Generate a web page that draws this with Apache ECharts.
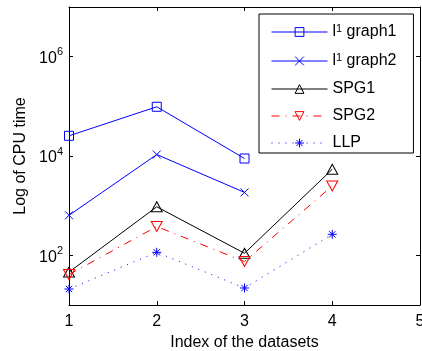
<!DOCTYPE html>
<html>
<head>
<meta charset="utf-8">
<script src="https://cdn.jsdelivr.net/npm/echarts@6/dist/echarts.min.js"></script>
<style>
  html, body {margin: 0; padding: 0; background: #fff;}
  #chart {width: 422px; height: 351px;}
</style>
</head>
<body>
<div id="chart"></div>
<script>
const datasets = [1, 2, 3, 4];
const l1graph1 = [25500, 98000, 8900, null];
const l1graph2 = [640, 10700, 1850, null];
const spg1 = [46, 950, 110, 5400];
const spg2 = [41, 380, 75, 2500];
const llp = [21, 115, 22, 265];
const xTicks = [1, 2, 3, 4, 5];
const yTicks = [100, 10000, 1000000];

const font = 'Liberation Sans, Arial, Helvetica, sans-serif';
const pairs = vals => datasets.map((x, i) => [x, vals[i]]);

// superscript text pieces for tick labels and legend
const supText = {
  a: {fontSize: 16, fontFamily: font, color: '#000'},
  A: {fontSize: 16, fontFamily: font, color: '#000', lineHeight: 18},
  s: {fontSize: 11, fontFamily: font, color: '#000', lineHeight: 11, verticalAlign: 'top', padding: [0, 0, 7, 0]}
};
const tickText = {
  a: {fontSize: 16, fontFamily: font, color: '#000', lineHeight: 20, verticalAlign: 'bottom'},
  s: {fontSize: 11, fontFamily: font, color: '#000', lineHeight: 11, verticalAlign: 'top', padding: [0, 0, 9, 0]}
};

const chart = echarts.init(document.getElementById('chart'));

const yAxisBase = {
  type: 'log',
  logBase: 10,
  min: 10,
  max: 1e7,
  axisLine: {show: true, lineStyle: {color: '#000', width: 1}},
  axisTick: {show: true, inside: true, length: 4, customValues: yTicks, lineStyle: {color: '#000'}},
  splitLine: {show: false},
  minorTick: {show: false}
};
const xAxisBase = {
  type: 'value',
  min: 1,
  max: 5,
  interval: 1,
  axisLine: {show: true, onZero: false, lineStyle: {color: '#000', width: 1}},
  axisTick: {show: true, inside: true, length: 4, lineStyle: {color: '#000'}},
  splitLine: {show: false}
};

chart.setOption({
  animation: false,
  backgroundColor: '#fff',
  textStyle: {fontFamily: font},
  grid: {left: 69, right: 2, top: 7, bottom: 46, containLabel: false, outerBoundsMode: 'none'},
  xAxis: [
    Object.assign({}, xAxisBase, {
      position: 'bottom',
      name: 'Index of the datasets',
      nameLocation: 'middle',
      nameGap: 30,
      nameTextStyle: {fontSize: 16, color: '#000', fontFamily: font},
      axisLabel: {fontSize: 16, color: '#000', margin: 9, fontFamily: font,
        customValues: xTicks, showMaxLabel: true}
    }),
    Object.assign({}, xAxisBase, {position: 'top', axisLabel: {show: false}})
  ],
  yAxis: [
    Object.assign({}, yAxisBase, {
      position: 'left',
      name: 'Log of CPU time',
      nameLocation: 'middle',
      nameGap: 40,
      nameTextStyle: {fontSize: 16, color: '#000', fontFamily: font},
      axisLabel: {
        customValues: yTicks,
        margin: 6,
        formatter: v => '{a|10}{s|' + Math.round(Math.log10(v)) + '}',
        rich: tickText
      }
    }),
    Object.assign({}, yAxisBase, {position: 'right', axisLabel: {show: false}})
  ],
  legend: {
    left: 259,
    top: 14,
    orient: 'vertical',
    itemWidth: 56,
    itemHeight: 11,
    itemGap: 11,
    padding: [9, 17, 2, 12],
    backgroundColor: '#fff',
    borderColor: '#000',
    borderWidth: 1,
    borderRadius: 0,
    lineStyle: {width: 1},
    itemStyle: {borderWidth: 1},
    data: ['l1 graph1', 'l1 graph2', 'SPG1', 'SPG2', 'LLP'],
    formatter: name => name.startsWith('l1 ')
      ? '{A|l}{s|1}{A| ' + name.slice(3) + '}'
      : '{a|' + name + '}',
    textStyle: {fontSize: 16, color: '#000', fontFamily: font, rich: supText}
  },
  series: [
    {
      name: 'l1 graph1', type: 'line', data: pairs(l1graph1),
      symbol: 'rect', symbolSize: 9,
      lineStyle: {color: '#0000ff', width: 1},
      itemStyle: {color: 'transparent', borderColor: '#0000ff', borderWidth: 1}
    },
    {
      name: 'l1 graph2', type: 'line', data: pairs(l1graph2),
      symbol: 'path://M0,0L10,10M0,10L10,0', symbolSize: 8,
      lineStyle: {color: '#0000ff', width: 1},
      itemStyle: {color: 'transparent', borderColor: '#0000ff', borderWidth: 1}
    },
    {
      name: 'SPG1', type: 'line', data: pairs(spg1),
      symbol: 'triangle', symbolSize: [11, 10],
      lineStyle: {color: '#000', width: 1},
      itemStyle: {color: 'transparent', borderColor: '#000', borderWidth: 1}
    },
    {
      name: 'SPG2', type: 'line', data: pairs(spg2),
      symbol: 'path://M0,0L10,0L5,9Z', symbolSize: [11, 10],
      lineStyle: {color: '#ff0000', width: 1, type: [8, 6, 1, 6]},
      itemStyle: {color: 'transparent', borderColor: '#ff0000', borderWidth: 1}
    },
    {
      name: 'LLP', type: 'line', data: pairs(llp),
      symbol: 'path://M5,0L5,10M0,5L10,5M1.5,1.5L8.5,8.5M8.5,1.5L1.5,8.5', symbolSize: 9,
      lineStyle: {color: '#0000ff', width: 1, type: [1, 6]},
      itemStyle: {color: 'transparent', borderColor: '#0000ff', borderWidth: 1}
    }
  ]
});
</script>
</body>
</html>
